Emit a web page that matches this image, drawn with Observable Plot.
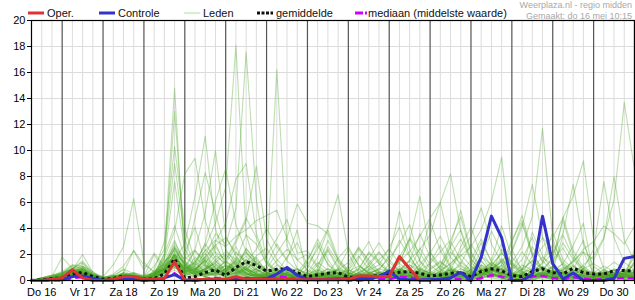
<!DOCTYPE html>
<html><head><meta charset="utf-8">
<script src="https://cdn.jsdelivr.net/npm/d3@7"></script>
<script src="https://cdn.jsdelivr.net/npm/@observablehq/plot@0.6"></script>
<style>
body{margin:0;background:#fff;font-family:"Liberation Sans",Arial,sans-serif;}
#wrap{position:relative;width:635px;height:300px;overflow:hidden;}
#legend{position:absolute;left:0;top:0;pointer-events:none;}
</style></head><body>
<div id="wrap"><div id="chart"></div><svg id="legend" width="635" height="20"></svg></div>
<script>
// ---- data ----
const startTime = "2024-05-16T06:00Z";   // first 6-hourly value
const endTime = "2024-05-31T00:00Z";
const stepHours = 6;
const dayLabels = ["Do 16","Vr 17","Za 18","Zo 19","Ma 20","Di 21","Wo 22","Do 23","Vr 24","Za 25","Zo 26","Ma 27","Di 28","Wo 29","Do 30"];
const yTicks = [0,2,4,6,8,10,12,14,16,18,20];

const oper = [0,0,0.1,0.2,0.82,0.2,0,0,0.1,0.3,0.3,0.1,0.1,0.15,1.42,0,0.05,0.1,0.1,0.1,0.3,0.1,0.15,0.1,0.1,0.12,0.05,0.05,0.05,0.05,0.05,0.1,0.35,0.35,0.3,0.3,1.85,0.9,0,0];
const controle = [0,0,0.05,0.1,0.3,0.35,0.15,0,0.05,0.1,0.1,0,0.05,0.2,0.45,0.05,0,0.1,0.1,0.05,0.15,0.15,0.1,0.15,0.5,1.0,0.4,0.1,0.05,0.1,0.1,0.15,0.15,0.15,0.3,0.72,0.1,0.05,0.05,0.05,0.1,0.2,0.62,0,1.8,4.95,3.3,0,0,0.45,4.95,1.3,0.12,0.58,0,0,0,0.15,1.7,1.85];
const gemiddelde = [0,0.05,0.15,0.2,0.5,0.62,0.3,0.1,0.15,0.35,0.25,0.1,0.15,0.5,1.67,0.18,0.3,0.62,0.82,0.38,1.0,1.45,1.15,0.72,0.87,0.9,0.6,0.3,0.43,0.56,0.6,0.26,0.23,0.3,0.38,0.5,0.64,0.69,0.56,0.33,0.43,0.56,0.6,0.3,0.7,0.9,0.75,0.38,0.3,0.7,0.9,0.6,0.5,0.95,0.6,0.5,0.5,0.75,0.77,0.7];
const mediaan = [0,0,0,0,0.2,0.25,0.1,0,0,0.1,0.05,0,0,0.2,0.55,0,0,0.1,0.2,0.1,0.15,0.2,0.15,0.2,0.3,0.25,0.1,0,0.1,0.1,0.15,0,0,0.05,0.1,0.1,0.3,0.25,0.1,0,0.05,0.1,0.1,0,0.2,0.4,0.3,0,0.05,0.3,0.35,0.2,0.1,0.25,0.15,0.05,0.1,0.15,0.2,0.15];

// ensemble members, 60 six-hourly values each (groups: 3 | 4 x 14 | 1)
const leden = [
"0 0 .2|.3 .8 .6 .2|0 .1 .4 .2|0 .3 2.1 14.8|1.2 .3 .5 .8|.2 .6 1.1 .4|.1 .3 .2 0|0 .2 .4 .3|0 0 .1 .2|.3 .5 .2 0|0 .2 .4 .1|0 .3 .8 .5|.1 0 .4 .6|.2 0 .1 .3|.2 .5 .4 .1|0",
"0 .1 .3|.5 1.2 .9 .4|.1 0 .3 .2|0 .5 1.6 13|2.5 .8 .3 .1|0 .4 .9 1.5|.6 .2 0 .1|.3 .8 .5 .2|0 .1 .3 .6|.4 .2 0 0|.1 .6 .3 0|0 .1 .9 1.4|.3 0 .2 .5|1 .6 .2 0|0 .1 .3 .7|.5",
"0 0 0|.2 .5 1 .3|0 .2 .6 .3|0 .8 3 10.3|4 1.5 .6 .3|.1 .5 .3 .2|.4 1.2 .6 .2|0 .1 .2 .1|0 .3 .5 .2|.6 1.1 .4 0|0 .4 .2 .6|.8 1.5 .6 .2|0 .3 .7 .4|.1 .2 .6 .3|0 .4 .9 .6|.3",
"0 .2 .4|.6 .9 1.4 .5|.2 0 .2 .4|.3 1.1 2.4 9|3.2 1 .4 .6|1.2 .8 .3 .5|.2 .4 1 .5|.2 0 .3 .6|.2 .1 0 .3|.1 .5 .8 .3|.1 0 .3 .5|.2 .6 1 .4|.1 0 .5 1.1|.6 .3 .2 .1|0 .3 .5 .8|.6",
"0 0 .1|.4 .7 .5 .3|0 .3 .9 .5|.2 .6 1.8 7.6|2.2 4.1 1.3 .5|.3 .9 .6 .2|.5 .2 .1 .4|.2 .6 .3 .1|0 .2 .4 .1|.3 .7 1.2 .5|.2 .1 0 .3|0 .8 .5 .2|.4 .2 0 .3|.6 1 .4 .1|.2 .5 .3 .2|.4",
"0 0 0|.1 .3 .6 .2|0 0 .2 .1|0 .4 .8 1.6|2.8 6.5 11.1 4|1.5 .8 .4 .2|.3 .6 .2 0|0 .3 .5 .8|.3 .1 0 .2|.4 .3 .1 0|.2 .5 .9 .4|.1 .3 .6 .2|0 .2 .8 .5|.3 .1 .2 .6|.4 .2 .1 0|.1",
"0 .1 .2|.3 .6 .4 .1|0 .1 .3 .5|.2 .3 .9 2.5|1.6 2.4 5.2 10|3.4 1.9 .8 .3|.1 .4 .7 .3|.2 .1 0 .3|.5 .2 .1 .3|.2 .4 .6 .3|0 .1 .4 .2|.3 .6 1.3 .8|.2 0 .1 .4|.7 .5 .3 .1|0 .2 .4 .6|.5",
"0 0 .1|.2 .5 .8 .4|.1 0 .2 .1|0 .2 .6 1.2|.8 1.5 2.6 4.4|7.2 18.1 3.5 1.1|.6 .9 .4 .2|.1 .3 .2 .4|.2 0 .1 .5|.3 .2 .8 .4|.1 .3 .6 .2|0 .4 .7 1.1|.5 .2 0 .3|.2 .6 .3 .1|.1 0 .3 .4|.2",
"0 .1 .3|.5 .9 .7 .3|0 .2 .5 .3|.1 .4 1.4 3.1|1.2 .7 1.9 3.6|2.8 5.5 17.6 6.2|1.4 .6 .3 .1|0 .4 .6 .2|.1 .3 .5 .2|0 .1 .4 .7|.5 .2 .1 0|.3 .9 .6 .3|.1 .2 .5 .9|.4 .2 0 .1|.3 .6 .8 .4|.3",
"0 0 0|.1 .4 .3 .2|0 .1 .2 0|0 .2 .7 1.9|.6 .9 1.4 2.2|1.6 3.1 4.8 3.3|1.2 16.2 2.7 .9|.4 .2 .1 .3|.1 0 .2 .4|.6 .3 .1 0|.2 .5 .3 .1|.4 .8 .5 .2|0 .1 .3 .6|.2 .4 .7 .3|.1 .2 .5 .3|.2",
"0 0 .2|.4 .6 1 .5|.3 1.2 2.6 6.3|1.4 .6 .8 2|1.1 .5 .3 .6|.8 1.3 .6 .2|0 .2 .5 .3|.1 .6 .3 0|.2 .4 .1 .3|.5 .9 .4 .1|0 .3 .7 .4|.2 .1 .5 .9|.6 .2 .1 .3|.4 .8 .3 0|.1 .3 .2 .5|.4",
"0 .1 .1|.2 .4 .6 .3|.1 0 .1 .3|.2 .5 .9 1.3|.7 1.1 1.8 1|.5 .9 2.4 1.6|.8 .5 .3 .6|1.2 2.4 4 6.6|2.1 .6 .3 .2|.1 .4 .8 .3|.2 0 .3 .6|.3 .5 1 .4|.2 .4 .6 .3|0 .2 .5 .8|.6 .3 .2 .1|.2",
"0 0 0|.3 .7 .4 .2|0 .2 .3 .1|0 .3 1.2 2.3|1.4 .8 .5 1.2|.6 1.5 2.2 1.3|.9 2.1 3.3 5.9|4.4 4.2 3.6 1.5|.6 .3 .1 .4|.2 .6 .3 .1|0 .4 .9 .5|.3 .1 .6 1.2|.5 .3 .2 .4|.7 .3 .1 0|.3 .5 .8 .4|.2",
"0 .1 .2|.1 .5 .9 .4|.2 0 .3 .6|.3 .2 .8 1.5|.4 .6 1.3 2.8|1.2 .7 .4 .9|.3 .6 1 .4|.2 .1 .5 .8|.4 .9 .3 .2|.6 1.4 3.1 6.5|2.2 .8 .4 .3|.5 .2 .8 .6|.3 0 .4 .7|.2 .6 .4 .1|0 .3 .6 .5|.3",
"0 0 .1|.3 .6 .5 .2|0 .1 .4 .2|.1 .6 1 1.7|.9 .4 .8 1.5|.7 1.1 .5 .3|.2 .4 .8 .3|0 .3 .6 .2|.4 .2 .5 .9|.7 1.5 2.2 3.4|4.8 6 8.2 3.8|1.4 .6 .3 .2|.5 .1 .3 .7|.4 .2 .8 .5|.2 .1 .4 .3|.5",
"0 .2 .4|.5 .8 .6 .3|.1 .4 .2 0|.2 .7 1.3 2.7|1.5 .9 .6 .4|.8 1.6 1 .5|.2 .3 .6 .9|.4 .2 .3 .1|.2 .6 1.1 .5|.3 .8 1.6 2.4|3.5 6 2.5 1.1|.6 .9 .4 .2|.1 .3 .7 1|.6 .4 .2 .3|.5 .8 .4 .2|.3",
"0 0 0|.2 .4 .8 .3|0 .1 .2 .4|.1 .3 .9 1.1|.5 .8 1.6 .9|.4 1.2 .8 .3|.5 .2 .1 .4|.3 .7 .4 .1|0 .2 .6 .3|.1 .5 .3 .6|.4 .2 1.1 1.9|2.6 3.9 6.1 9.5|2.4 .7 .3 .5|.2 .4 .6 .3|.1 .5 .3 .2|.4",
"0 .1 .2|.4 1 .7 .3|.2 0 .3 .5|.2 .4 1.5 2|.7 .5 1 .8|1.5 .9 .6 .4|.2 .8 .5 .3|.1 .4 .9 .5|.3 .1 .2 .4|.6 .9 .5 .3|.2 .8 1.3 2.2|3.4 5.6 2.8 1.4|.6 .3 .5 .9|.4 .2 .1 .5|.7 .4 .3 .1|.2",
"0 0 .1|.2 .3 .5 .2|0 .2 .1 .3|.4 .6 .8 1.4|1.1 2.3 1.5 .6|.3 .7 1.4 .8|.4 .3 .6 .2|.1 .2 .4 .7|.3 .6 .2 .1|.4 .3 .8 .5|.2 .1 .5 .9|.6 .3 1.2 2.1|1.4 2.6 4.9 11.7|3.2 1.1 .5 .3|.2 .6 .4 .8|.5",
"0 .1 .3|.6 .9 1.5 .6|.2 .1 .4 .3|0 .2 .6 2.2|1.3 .6 .4 .9|.5 .8 1.3 .6|.3 .9 .4 .1|.2 .5 .3 .6|.2 .4 .8 .3|.5 .2 .3 .7|.4 .6 .2 .3|.8 1.2 .7 .5|2.2 4.1 7.4 3.3|1.2 .6 .3 .1|.3 .2 .6 .4|.3",
"0 0 0|.1 .5 .4 .2|.3 .2 0 .1|.2 .5 1.1 1.6|.6 .3 .8 1.4|2 1.2 .6 .4|.7 .3 .2 .5|.3 .1 .6 .4|.2 .5 .3 .7|.4 .1 .3 .5|.3 .7 .4 .2|.1 .4 .8 .6|.3 .9 1.5 2.6|3.3 4.8 6.5 9.2|3.1 .9 .4 .3|.6",
"0 .1 .1|.3 .6 1.1 .7|.1 .3 .5 .2|.1 .3 .7 1.8|.9 1.3 .7 .4|.6 2.2 1.5 .7|.3 .5 .8 .4|.2 .6 .3 .1|.4 .2 .1 .3|.5 .8 .4 .2|.1 .3 .6 .4|.3 .7 1.4 .9|.5 .2 .8 1.3|2.1 3.6 7.4 2.8|1.1 .5 .3 .6|.4",
"0 0 .2|.4 .7 .5 .2|0 .1 .3 .1|.2 .4 1.3 2.6|1 .7 .5 .8|1.1 .6 .9 .5|.2 .4 .6 .3|.4 .2 .5 .3|.1 .3 .6 .4|.2 .5 .3 .8|.6 .2 .4 .1|.3 .5 .9 .6|.4 .7 .3 .5|.8 .4 .6 1.2|1.9 3.3 6.2 13.7|8.5",
"0 .1 .2|.2 .5 .7 .4|.1 0 .2 .4|.3 .2 .6 1.4|.8 1.2 2.1 .9|.5 .3 .7 1.8|.6 .3 .5 .2|.1 .4 .3 .6|.5 .2 .4 .1|.3 .6 .9 .4|.2 .5 .3 .7|.5 1.1 .6 .3|.2 .5 .9 .4|.6 .8 1.5 2.2|1.6 3.2 8 3.1|1.5",
"0 0 0|.3 .4 .9 .5|.2 .4 .1 0|.1 .5 .8 2|1.4 .7 .3 .5|.9 1.4 .8 .3|.4 .7 .3 .1|.2 .3 .1 .4|.6 .3 .2 .5|.3 .1 .4 .6|.2 .4 .8 .5|.3 .6 .4 .9|.7 .3 .2 .6|.4 .2 .5 .9|2.4 7.6 3.3 1.4|.8",
"0 .2 .3|.5 .8 .6 .3|.1 .2 .3 .2|0 .3 .9 1.3|.6 .9 1.5 .7|.4 .6 1 .5|.2 .5 .4 .2|.1 .3 .2 .5|.3 .4 .6 .2|.1 .4 .7 .3|.2 .1 .4 .6|.4 .8 .5 .2|.3 .6 .4 .2|.5 .9 1.4 2.4|3 4.2 3.6 2.8|4.2",
"0 0 .1|.3 .5 .4 .2|0 .2 .5 .3|.1 .4 1.2 1.8|.9 1.4 2.3 3.1|2.6 3.4 3.9 4.6|5 5.4 3.2 1.6|.8 .4 .2 .3|.1 .5 .3 .2|.4 .6 .3 .1|0 .2 .5 .3|.6 .4 .8 .5|.2 .4 .3 .6|.3 .1 .4 .2|.5 .3 .6 .4|.2",
"0 .1 .2|.4 .6 .8 .3|.2 .1 .4 .3|0 .2 .5 1|.6 .9 .4 .7|1.2 .8 .5 .3|.4 .2 .6 .9|.5 .3 .1 .4|.7 1.1 .6 .8|1.9 5.3 2.4 1|.5 .3 .2 .4|.6 .9 .5 .3|.4 .2 .6 .3|.1 .5 .8 .4|.2 .4 .3 .6|.4",
"0 0 0|.2 .6 .3 .1|0 .1 .3 .2|.1 .5 .8 1.5|.4 .7 1.1 .6|.3 .9 1.6 .8|.5 .3 .2 .4|.6 .3 .5 .2|.1 .3 .2 .6|.4 .7 .3 .2|.5 .3 .8 .4|.2 .6 .3 .9|.4 .5 1.2 .7|1.8 4.6 2 .8|.4 .2 .5 .3|.2",
"0 .1 .1|.3 .9 .6 .2|.1 .3 .2 .1|.2 .1 .7 1.6|.8 .5 .9 1.3|.6 1.8 .9 .4|.3 .6 .5 .2|.1 .2 .7 .4|.3 .5 .2 .4|.2 .3 .6 .9|.6 .2 .4 .3|.5 1.2 .8 1.5|2.3 4.4 1.9 .7|.5 .3 .8 .4|.2 .6 .3 .5|.3",
"0 0 .2|.2 .7 .5 .3|0 .2 .6 .4|.3 .6 1.4 2.4|1.2 .6 .8 2.6|1.4 .7 .5 .3|.6 .9 .4 .2|.3 .5 .9 .6|.2 .4 .7 .3|.5 .2 .4 .8|1.3 2.2 3.1 4.9|2.1 .8 .4 .6|.3 .5 .2 .4|.7 .3 .2 .5|.4 .1 .3 .6|.5",
"0 .1 .2|.4 .7 .9 .3|.1 .2 .5 .3|.2 .5 1.7 3.8|8.2 9.4 4.6 2.1|1.1 .9 2.5 1.4|.6 .3 .5 .2|.3 1.2 2.4 1.1|.5 .9 2.1 1.3|.6 1.8 3.2 1.5|.4 1.1 2.6 3.9|1.7 .8 1.4 2.8|1.3 .6 .9 1.8|1.2 2.9 1.6 .7|.4 .3 .5 .4|.3",
"0 0 .1|.3 .5 .6 .4|.2 0 .3 .6|.4 .3 1 2.9|1.6 4.8 8.3 5.2|2.4 1.3 .6 .9|.4 .2 .7 .3|.5 1.4 .8 .3|.2 .6 1.7 2.9|1.6 .7 .4 .9|2.1 3.4 1.8 .9|.5 1.6 3.8 2.2|1.1 .5 1.9 3.3|2.4 1.2 .6 .9|.5 .6 .3 .2|1.4",
"0 .2 .3|.6 1.1 .8 .4|.1 .3 .2 .4|.1 .6 2 4.2|1.8 1.2 2.9 6.1|8.6 4.3 2.2 1.3|.6 .8 .4 .3|.2 .7 2.6 1.4|.6 .3 .8 1.2|2.5 4.1 1.9 .6|.4 .9 2.2 1.3|2.8 1.5 .7 1.2|3.1 4.6 2 .9|.6 1.3 2.7 4.4|.5 .2 .4 .3|2.1",
"0 0 0|.2 .4 .7 .3|0 .2 .4 .2|.3 .2 .9 2|1.3 .8 1.6 3|4.4 7.8 9 3.6|1.5 .7 .4 .2|1.5 3.2 1.6 .5|.8 2.4 1.2 .5|.3 .7 1.5 3.6|1.8 .9 .5 1.4|.8 2.3 1.1 .6|1.4 .8 2.6 1.5|.7 3.5 1.8 .8|.2 .5 .3 .6|1.2",
"0 .1 .2|.3 .6 1.3 .5|.2 .4 .3 .1|0 .4 .8 1.5|.9 2.3 1.2 .8|1.5 2.9 4.6 8.8|3.2 1.6 .8 .4|.4 .9 .5 1.7|2.6 1.2 .5 .9|1.7 2.8 4.3 1.5|.7 .4 1.9 3.2|1.6 .8 .5 2.4|1.3 .7 3.7 1.9|.8 .5 1.6 3.1|.3 .4 .6 .3|2.4",
"0 0 .1|.2 .5 .4 .2|.1 .2 .6 2.3|.8 2.1 1.1 1.8|.9 .6 1.8 2.7|3.3 2.1 1.4 2.4|4 2.6 1.5 .8|.6 1.8 3.9 1.7|.8 .4 1.3 2.2|1.1 .5 .8 1.6|4.6 2.3 1 .5|1.2 2.9 1.5 4.2|1.8 .9 .6 1.4|2.8 1.4 .7 1.1|.5 .3 .2 .4|.9",
"0 .1 .3|.5 .8 2 .6|.3 .1 .4 .6|.2 .4 1 1.9|1 .5 .8 1.6|2.2 1.6 3.5 2.8|1.3 .6 1.8 2.9|1.2 .6 2.3 .9|.4 1.7 3 1.3|.6 .9 .5 1.2|2.2 1.1 3 1.6|.7 .4 1.2 .8|2.9 5 2.1 .9|1.6 2.5 1.1 .6|.1 .4 .6 .5|1.3",
"0 0 .2|.4 .6 .5 .3|.1 .2 .3 .4|.3 2 .7 1.2|.6 1.4 2.8 1.7|.8 1.1 1.9 .9|.5 .7 .4 .3|.9 2.7 1.3 .5|.4 .8 2.2 1.5|.7 1.3 3.3 2.1|.9 1.5 .7 2.6|4.1 1.9 .8 1.6|.9 2.2 1.2 .5|1.1 4.9 2.3 1|.2 .7 .4 .3|1.5",
"0 .1 .1|.2 .4 .6 .2|0 .3 .5 .2|.1 .3 .6 2.1|.7 .9 1.2 .8|.6 1.3 2.1 1.1|.7 1.5 2.4 1.6|2 1 3.1 1.6|.7 1.9 .9 .5|.6 1.7 .8 2.5|1.2 .6 2.7 5.4|2.2 1 .6 1.5|.8 1.6 3.3 1.4|3.7 1.6 .9 2.2|.5 .3 .2 .6|1.8",
"0 0 .1|.3 .7 .9 .4|.2 .4 .8 .3|0 .2 .5 1.3|.6 1.8 1.1 .7|.5 .8 1.6 1.2|1.9 3.2 4.7 2.1|2.3 1.1 .6 .8|1.4 2.5 1.6 .7|.4 .8 1.5 .9|.5 .3 .6 1.2|.7 .4 1.1 2.1|1.2 .6 .4 .3|.8 1.3 .6 .4|.3 .5 .8 .4|.6",
"0 .2 .4|.7 1.2 1.1 .5|.2 .1 .3 .2|.1 .3 .7 1.7|1.1 .6 .9 1.9|1.3 2.6 1.2 .6|1.2 2.8 1.6 3.9|.3 .2 .5 .9|.6 .4 1.1 2.1|1.4 .7 .5 .3|.6 1.1 .7 .4|.2 .5 .9 .6|.4 1.2 .8 .5|.3 .6 1.1 .7|.4 .8 1.4 .9|.7",
"0 0 0|.1 .3 .5 .2|0 .1 .2 .4|.2 .5 .9 1.2|.5 .7 2.4 1.5|.8 .5 1.1 1.9|2.5 1.3 .6 .3|.5 .8 .4 .2|.3 .6 .9 1.6|2.4 1.3 .7 .5|.8 1.4 .9 .5|.6 1.9 1.2 .7|.5 .8 1.5 .9|.4 .7 .5 .3|.6 1.1 .7 .5|.4",
"0 .1 .2|.3 .6 .8 .3|.1 .3 .2 .1|.2 .4 .6 1|.4 .3 .7 1.1|.6 .9 .5 .4|.3 .5 .9 .6|1.6 2.9 1.2 .5|.8 .5 .3 .6|.9 .5 1.2 .8|.4 .7 1.3 2|1.1 .6 .9 1.7|.8 .5 .3 .6|1.1 .7 .4 .9|1.3 .8 .5 .7|.6",
"0 .1 .3|.6 .9 .7 .4|.2 .5 1.1 2.3|1.2 .7 .9 1.5|.8 .5 .3 .6|.9 1.5 .8 .3|.6 .4 .2 .5|.3 .6 .4 .2|1.1 2.6 1.4 .6|.3 .9 .6 .4|.2 .5 .8 .6|.3 .5 .8 .4|.6 .3 .7 1.1|.5 .8 1.2 .6|.4 .6 .3 .8|.6",
"0 0 .1|.2 .5 .3 .2|.1 0 .2 .3|.1 .2 .8 1.1|.5 .4 .9 .6|.3 .6 .4 .7|.9 .5 .3 .2|.4 .3 .6 .9|2.4 1.2 .6 .4|.6 .4 .3 .2|.4 .6 .3 .2|.5 .3 .2 .6|.3 .5 .4 .2|.3 .2 .5 .4|.6 .3 .4 .2|.3",
"0 .1 .2|.4 .8 .5 .3|0 .2 .4 .2|.3 .6 1.2 1.9|.7 1.1 .6 .5|.9 .6 .3 .5|.4 .6 1.1 .7|.3 .5 .2 .4|.6 .3 .5 .2|1.3 3.1 1.8 .7|.2 .4 .6 .4|.8 .5 .3 .7|.5 .3 .6 .4|.2 .5 .3 .6|.4 .7 .5 .3|.4",
"0 0 .1|.1 .3 .4 .1|0 .1 .3 .2|0 .1 .4 .8|.3 .2 .5 .4|.2 .4 .3 .2|.1 .3 .2 .1|0 .2 .3 .1|0 .1 .3 .2|.1 .3 .2 .1|0 .2 .1 .3|.2 .4 .2 .1|0 .2 .3 .1|.2 .1 .3 .2|.1 .2 .3 .1|.2",
"0 .1 .2|.3 .5 .6 .2|.1 .2 .1 .3|.2 .3 .6 1.4|.6 .5 .9 1.3|.7 .5 .8 .6|.4 .3 .5 .2|.3 .4 .2 .3|.1 .4 .5 .3|.2 .5 .4 .2|1.4 2.7 1.1 .6|.4 .6 .3 .5|.2 .4 .3 .5|.6 .3 .2 .4|.3 .5 .4 .3|.2",
"0 0 .3|1.8 .9 1.1 .4|.2 .3 .6 .4|.1 .5 .9 2.5|1.2 .7 .5 .8|.6 .4 .9 .5|.3 .2 .4 .6|.2 .5 .3 .2|.4 .2 .3 .6|.5 .3 .2 .4|.6 .3 .2 .5|1.6 3.2 1.4 .8|.5 .3 .2 .4|.3 .6 .4 .2|.3 .5 .2 .4|.3"
];

// ---- build ----
try {
  const t0 = new Date(startTime);
  const t1 = new Date(endTime);
  const stepMs = stepHours * 3600e3;
  const timeAt = i => new Date(+t0 + i * stepMs);
  const nSteps = Math.round((t1 - t0) / stepMs) + 1;
  const gridTimes = d3.range(nSteps).map(timeAt);
  const dayTimes = gridTimes.filter(d => d.getUTCHours() === 0);
  const minorTimes = gridTimes.filter(d => d.getUTCHours() !== 0);
  const noon0 = d3.utcDay.floor(t0).getTime() + 12 * 3600e3;
  const noons = dayLabels.map((_, k) => new Date(noon0 + k * 864e5));

  const series = arr => arr.map((v, i) => ({t: timeAt(i), v}));
  const memberRows = [];
  const bad = [];
  leden.forEach((s, m) => {
    const vals = s.replace(/\|/g, " ").trim().split(/\s+/).map(Number);
    if (vals.length !== 60) bad.push(m + ":" + vals.length);
    vals.forEach((v, i) => memberRows.push({m, t: timeAt(i), v}));
  });
  if (bad.length) console.error("bad members", bad.join(","));

  const chart = Plot.plot({
    width: 635, height: 300,
    marginLeft: 31, marginRight: 1, marginTop: 20, marginBottom: 20,
    style: {fontFamily: "'Liberation Sans', Arial, sans-serif", fontSize: "11px", background: "white", overflow: "visible"},
    x: {type: "utc", domain: [t0, t1]},
    y: {domain: [0, 20]},
    marks: [
      Plot.ruleY(yTicks, {stroke: "#dcdcdc", strokeWidth: 1}),
      Plot.ruleX(minorTimes, {stroke: "#dcdcdc", strokeWidth: 1}),
      Plot.ruleX(dayTimes, {stroke: "#555", strokeWidth: 1.2}),
      Plot.line(memberRows, {x: "t", y: "v", z: "m", stroke: "rgb(72,165,32)", strokeOpacity: 0.36, strokeWidth: 1.1}),
      Plot.line(series(mediaan), {x: "t", y: "v", stroke: "#d000ff", strokeWidth: 2.5, strokeDasharray: "7,4", strokeLinecap: "butt"}),
      Plot.line(series(gemiddelde), {x: "t", y: "v", stroke: "#111", strokeWidth: 3, strokeDasharray: "3,3", strokeLinecap: "butt"}),
      Plot.line(series(controle), {x: "t", y: "v", stroke: "#3333cc", strokeWidth: 3}),
      Plot.line(series(oper), {x: "t", y: "v", stroke: "#dd3333", strokeWidth: 3}),
      Plot.frame({stroke: "black", strokeWidth: 1.2}),
      Plot.axisY({ticks: yTicks, tickSize: 4, tickPadding: 2, label: null, fontSize: 11}),
      Plot.axisX({ticks: gridTimes, tickSize: 4, tickFormat: () => "", label: null}),
      Plot.axisX({ticks: noons, tickSize: 0, tickPadding: 8, label: null, fontSize: 11,
        tickFormat: d => dayLabels[Math.round((d - noon0) / 864e5)]})
    ]
  });
  document.getElementById("chart").appendChild(chart);

  // legend (above the plot area)
  const lg = d3.select("#legend").style("font-family", "'Liberation Sans', Arial, sans-serif");
  const items = [
    {label: "Oper.", x: 28, stroke: "#dd3333", w: 3, dash: null},
    {label: "Controle", x: 99, stroke: "#3333cc", w: 3, dash: null},
    {label: "Leden", x: 184, stroke: "#b2dba0", w: 1, dash: null},
    {label: "gemiddelde", x: 257, stroke: "#111", w: 3, dash: "3,1.5"},
    {label: "mediaan (middelste waarde)", x: 355, stroke: "#d000ff", w: 3, dash: "8,2,2,20"}
  ];
  items.forEach(it => {
    lg.append("line").attr("x1", it.x).attr("x2", it.x + (it.label.startsWith("mediaan") ? 12 : 16))
      .attr("y1", 13).attr("y2", 13).attr("stroke", it.stroke).attr("stroke-width", it.w)
      .attr("stroke-dasharray", it.dash);
    lg.append("text").attr("x", it.x + (it.label.startsWith("mediaan") ? 13 : 19)).attr("y", 17.3)
      .attr("font-size", 11).attr("fill", "#111").text(it.label);
  });
  lg.append("text").attr("x", 632).attr("y", 8).attr("text-anchor", "end").attr("font-size", 9).attr("fill", "#a8a8a8").text("Weerplaza.nl - regio midden");
  lg.append("text").attr("x", 632).attr("y", 18.5).attr("text-anchor", "end").attr("font-size", 9).attr("fill", "#a8a8a8").text("Gemaakt: do 16 mei 10:15");
} catch (e) {
  document.body.insertAdjacentHTML("beforeend", "<pre>" + e + "</pre>");
  console.error(e);
}
</script>
</body></html>
